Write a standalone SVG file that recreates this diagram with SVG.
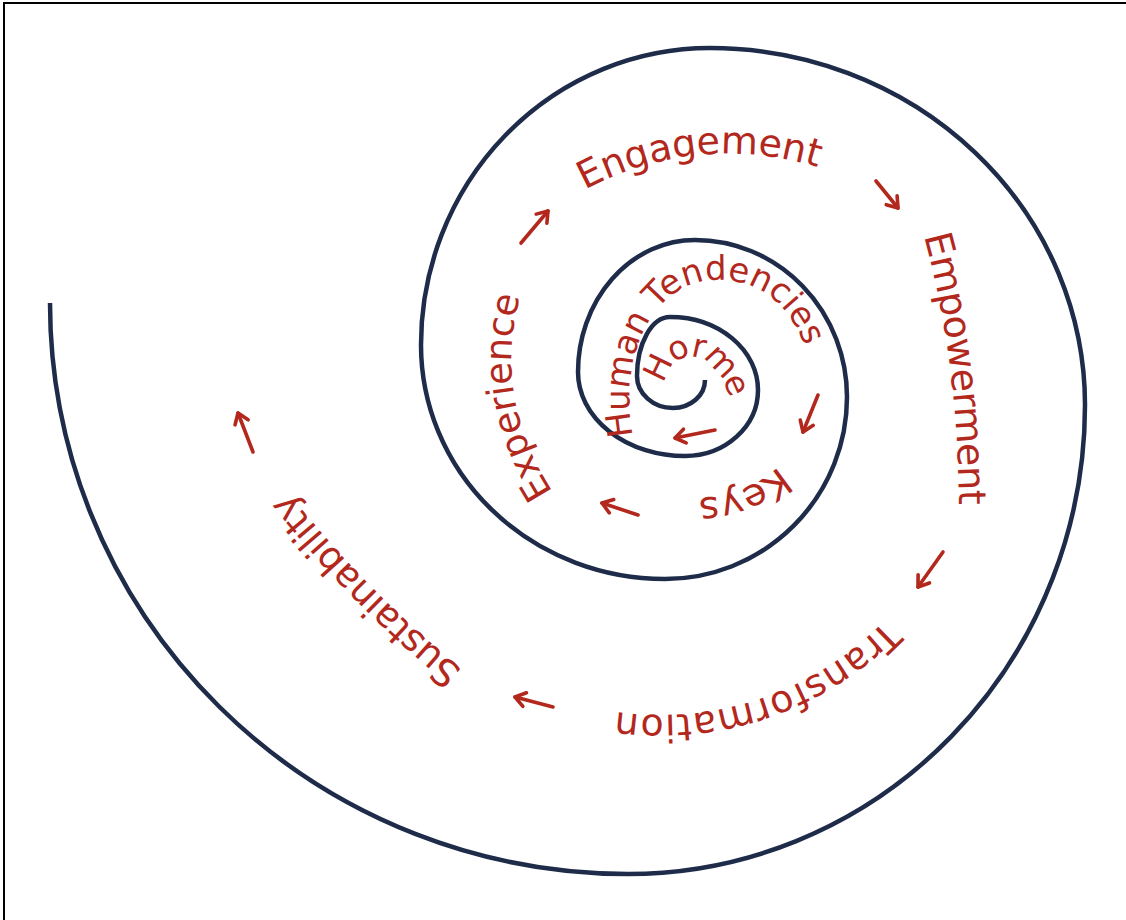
<svg xmlns="http://www.w3.org/2000/svg" width="1126" height="920" viewBox="0 0 1126 920">
  <style>
    .frame { stroke: #000; stroke-width: 2; fill: none; }
    .spiral { stroke: #1e2c4a; stroke-width: 4.5; fill: none; stroke-linecap: butt; }
    .label { fill: #b3281d; font-family: "DejaVu Sans", "Liberation Sans", sans-serif; }
    .arrow { stroke: #b3281d; stroke-width: 3.6; fill: none; stroke-linecap: round; stroke-linejoin: round; }
  </style>
  <defs>
    <marker id="head" markerUnits="userSpaceOnUse" markerWidth="16" markerHeight="18" refX="11" refY="8" orient="auto" overflow="visible">
      <path d="M1,1 L11,8 L1,15" stroke="#b3281d" stroke-width="3.6" fill="none" stroke-linecap="round" stroke-linejoin="round"/>
    </marker>
    <!-- baselines for the curved labels, running clockwise with the spiral -->
    <path id="p-engagement" d="M 585 190 A 300 300 0 0 1 820 168"/>
    <path id="p-empowerment" d="M 924 236 Q 958 360 959 508"/>
    <path id="p-transformation" d="M 885 620 A 312 312 0 0 1 606 710"/>
    <path id="p-sustainability" d="M 463 670 Q 360 585 287 490"/>
    <path id="p-experience" d="M 553 492 Q 490 395 522 290"/>
    <path id="p-human" d="M 633 436 C 618 360 650 282 715 280 C 760 279 790 305 805 347"/>
    <path id="p-horme" d="M 664 384 C 672 348 710 342 730 398"/>
    <path id="p-keys" d="M 779 466 Q 738 502 678 498"/>
  </defs>

  <rect width="1126" height="920" fill="#fff"/>
  <path class="frame" d="M 4 920 L 4 3 L 1126 3"/>

  <g id="spiral">
    <path class="spiral" d="M 705 380
      A 32 28 0 0 1 673 408
      A 36 32 0 0 1 637 376
      A 33 59 0 0 1 670 317
      A 88 73 0 0 1 758 390
      A 73 66 0 0 1 685 456
      A 107 84 0 0 1 578 372
      A 117 132 0 0 1 695 240
      A 152 157 0 0 1 847 397
      A 182 182 0 0 1 665 579
      A 244 234 0 0 1 421 345
      A 289 297 0 0 1 710 48
      A 375 357 0 0 1 1085 405
      A 457 469 0 0 1 628 874
      A 578 571 0 0 1 50 303"/>
  </g>

  <g id="horme"><text class="label" font-size="33" letter-spacing="-2"><textPath href="#p-horme">Horme</textPath></text></g>
  <g id="human-tendencies"><text class="label" font-size="34"><textPath href="#p-human" textLength="320" lengthAdjust="spacingAndGlyphs">Human Tendencies</textPath></text></g>
  <g id="keys"><text class="label" font-size="38"><textPath href="#p-keys">Keys</textPath></text></g>
  <g id="experience"><text class="label" font-size="37"><textPath href="#p-experience" textLength="205">Experience</textPath></text></g>
  <g id="engagement"><text class="label" font-size="38"><textPath href="#p-engagement" textLength="240">Engagement</textPath></text></g>
  <g id="empowerment"><text class="label" font-size="38"><textPath href="#p-empowerment" textLength="272">Empowerment</textPath></text></g>
  <g id="transformation"><text class="label" font-size="38"><textPath href="#p-transformation" textLength="295">Transformation</textPath></text></g>
  <g id="sustainability"><text class="label" font-size="38"><textPath href="#p-sustainability" textLength="250">Sustainability</textPath></text></g>

  <g id="connectors">
    <path class="arrow" marker-end="url(#head)" d="M 715 430 L 675 438"/>
    <path class="arrow" marker-end="url(#head)" d="M 818 395 L 803 432"/>
    <path class="arrow" marker-end="url(#head)" d="M 638 515 L 602 503"/>
    <path class="arrow" marker-end="url(#head)" d="M 521 243 L 548 211"/>
    <path class="arrow" marker-end="url(#head)" d="M 876 181 L 898 208"/>
    <path class="arrow" marker-end="url(#head)" d="M 943 552 L 918 587"/>
    <path class="arrow" marker-end="url(#head)" d="M 553 707 L 515 697"/>
    <path class="arrow" marker-end="url(#head)" d="M 253 452 L 238 413"/>
  </g>
</svg>
